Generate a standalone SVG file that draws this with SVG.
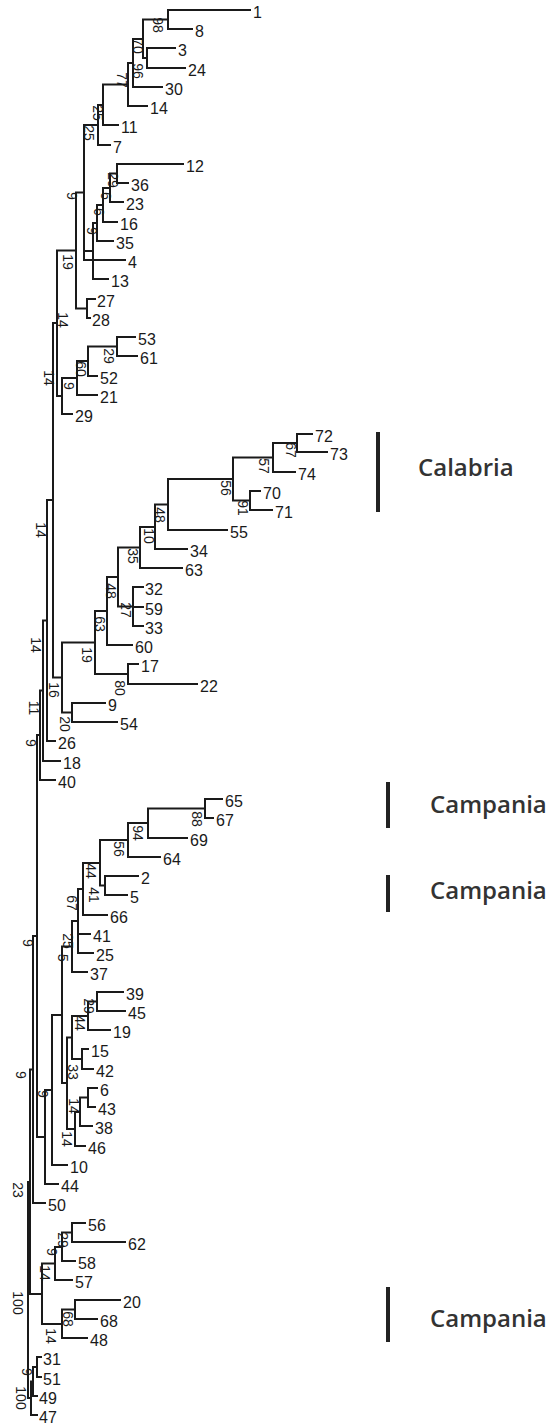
<svg xmlns="http://www.w3.org/2000/svg" width="550" height="1425" viewBox="0 0 550 1425">
<style>
.br{stroke:#1a1a1a;stroke-width:2;fill:none;stroke-linecap:square}
.lf text{font-family:"Liberation Sans",Arial,sans-serif;font-size:16px;fill:#1a1a1a}
.lf path{stroke:#1a1a1a;stroke-width:2;fill:none;stroke-linecap:square}
.bs{font-family:"Liberation Sans",Arial,sans-serif;font-size:14px;fill:#1a1a1a;text-anchor:middle;dominant-baseline:middle}
.bar{fill:#222}
.reg{font-family:"Open Sans","DejaVu Sans",sans-serif;font-size:24px;font-weight:600;fill:#333}
</style>
<rect width="550" height="1425" fill="#fff"/>
<g id="connectors" class="br">
<path d="M168 10V29 M147 48V68 M143 19.5V58 M143 19.5H168 M143 58H147 M133 39V87 M133 39H143 M128 63V106 M128 63H133 M103 84.5V125 M103 84.5H128 M98 105V145 M98 105H103"/>
<path d="M117 164V183 M110 173.5V202 M110 173.5H117 M103 188V222 M103 188H110 M97 205V241 M97 205H103 M93 223V279 M93 223H97 M84 125V260 M84 125H98 M84 251H93 M87 299V318 M76 192.5V308.5 M76 192.5H84 M76 308.5H87"/>
<path d="M117 337V356 M88 346.5V376 M88 346.5H117 M77 361V395 M77 361H88 M62 378V414 M62 378H77 M57 250.5V396 M57 250.5H76 M57 396H62"/>
<path d="M297 434V452 M273 443V472 M273 443H297 M250 491V510 M233 457.5V500.5 M233 457.5H273 M233 500.5H250 M168 479V530 M168 479H233 M155 504.5V549 M155 504.5H168 M140 527V568 M140 527H155 M133 587V626 M118 547.5V606.5 M118 547.5H140 M118 606.5H133 M107 577V645 M107 577H118 M128 664V684 M95 611V674 M95 611H107 M95 674H128 M72 703V722 M62 642.5V712.5 M62 642.5H95 M62 712.5H72"/>
<path d="M53 323V677.5 M53 323H57 M53 677.5H62 M47 500V741 M47 500H53 M43 620.5V761 M43 620.5H47 M40 690.5V780 M40 690.5H43"/>
<path d="M205 799V818 M148 808.5V838 M148 808.5H205 M128 823V857 M128 823H148 M105 876V895 M100 840V885.5 M100 840H128 M100 885.5H105 M83 863V915 M83 863H100 M78 889V953 M78 889H83 M72 921V972 M72 921H78"/>
<path d="M97 992V1011 M88 1001.5V1030 M88 1001.5H97 M82 1049V1069 M72 1016V1059 M72 1016H88 M72 1059H82 M88 1088V1107 M80 1097.5V1126 M80 1097.5H88 M75 1112V1146 M75 1112H80 M67 1037.5V1129 M67 1037.5H72 M67 1129H75 M62 946.5V1083 M62 946.5H72 M62 1083H67 M52 1015V1165 M52 1015H62 M45 1090V1184 M45 1090H52 M37 735V1137 M37 735H40 M37 1137H45 M33 936V1203 M33 936H37"/>
<path d="M72 1223V1242 M62 1232.5V1261 M62 1232.5H72 M55 1247V1280 M55 1247H62 M75 1300V1319 M62 1309.5V1338 M62 1309.5H75 M42 1263.5V1324 M42 1263.5H55 M42 1324H62 M30 1069.5V1294 M30 1069.5H33 M30 1294H42 M37 1357V1377 M33 1367V1396 M33 1367H37 M31 1381.5V1415 M31 1381.5H33 M28 1182V1398 M28 1182H30 M28 1398H31"/>
</g>
<g id="leaves" class="lf">
<g id="leaf-1"><path d="M168 10H250"/><text x="253" y="18">1</text></g>
<g id="leaf-8"><path d="M168 29H192"/><text x="195" y="37">8</text></g>
<g id="leaf-3"><path d="M147 48H175"/><text x="178" y="56">3</text></g>
<g id="leaf-24"><path d="M147 68H185"/><text x="188" y="76">24</text></g>
<g id="leaf-30"><path d="M133 87H162"/><text x="165" y="95">30</text></g>
<g id="leaf-14"><path d="M128 106H147"/><text x="150" y="114">14</text></g>
<g id="leaf-11"><path d="M103 125H118"/><text x="121" y="133">11</text></g>
<g id="leaf-7"><path d="M98 145H110"/><text x="113" y="153">7</text></g>
<g id="leaf-12"><path d="M117 164H183"/><text x="186" y="172">12</text></g>
<g id="leaf-36"><path d="M117 183H128"/><text x="131" y="191">36</text></g>
<g id="leaf-23"><path d="M110 202H123"/><text x="126" y="210">23</text></g>
<g id="leaf-16"><path d="M103 222H117"/><text x="120" y="230">16</text></g>
<g id="leaf-35"><path d="M97 241H113"/><text x="116" y="249">35</text></g>
<g id="leaf-4"><path d="M84 260H125"/><text x="128" y="268">4</text></g>
<g id="leaf-13"><path d="M93 279H108"/><text x="111" y="287">13</text></g>
<g id="leaf-27"><path d="M87 299H95"/><text x="97" y="307">27</text></g>
<g id="leaf-28"><path d="M87 318H90"/><text x="92" y="326">28</text></g>
<g id="leaf-53"><path d="M117 337H135"/><text x="138" y="345">53</text></g>
<g id="leaf-61"><path d="M117 356H137"/><text x="140" y="364">61</text></g>
<g id="leaf-52"><path d="M88 376H97"/><text x="100" y="384">52</text></g>
<g id="leaf-21"><path d="M77 395H97"/><text x="100" y="403">21</text></g>
<g id="leaf-29"><path d="M62 414H72"/><text x="75" y="422">29</text></g>
<g id="leaf-72"><path d="M297 434H312"/><text x="315" y="442">72</text></g>
<g id="leaf-73"><path d="M297 452H327"/><text x="330" y="460">73</text></g>
<g id="leaf-74"><path d="M273 472H295"/><text x="298" y="480">74</text></g>
<g id="leaf-70"><path d="M250 491H260"/><text x="263" y="499">70</text></g>
<g id="leaf-71"><path d="M250 510H272"/><text x="275" y="518">71</text></g>
<g id="leaf-55"><path d="M168 530H227"/><text x="230" y="538">55</text></g>
<g id="leaf-34"><path d="M155 549H187"/><text x="190" y="557">34</text></g>
<g id="leaf-63"><path d="M140 568H182"/><text x="185" y="576">63</text></g>
<g id="leaf-32"><path d="M133 587H143"/><text x="145" y="595">32</text></g>
<g id="leaf-59"><path d="M133 607H143"/><text x="145" y="615">59</text></g>
<g id="leaf-33"><path d="M133 626H143"/><text x="145" y="634">33</text></g>
<g id="leaf-60"><path d="M107 645H132"/><text x="135" y="653">60</text></g>
<g id="leaf-17"><path d="M128 664H138"/><text x="141" y="672">17</text></g>
<g id="leaf-22"><path d="M128 684H197"/><text x="200" y="692">22</text></g>
<g id="leaf-9"><path d="M72 703H105"/><text x="108" y="711">9</text></g>
<g id="leaf-54"><path d="M72 722H117"/><text x="120" y="730">54</text></g>
<g id="leaf-26"><path d="M47 741H55"/><text x="58" y="749">26</text></g>
<g id="leaf-18"><path d="M43 761H60"/><text x="63" y="769">18</text></g>
<g id="leaf-40"><path d="M40 780H55"/><text x="58" y="788">40</text></g>
<g id="leaf-65"><path d="M205 799H222"/><text x="225" y="807">65</text></g>
<g id="leaf-67"><path d="M205 818H213"/><text x="216" y="826">67</text></g>
<g id="leaf-69"><path d="M148 838H187"/><text x="190" y="846">69</text></g>
<g id="leaf-64"><path d="M128 857H160"/><text x="163" y="865">64</text></g>
<g id="leaf-2"><path d="M105 876H138"/><text x="141" y="884">2</text></g>
<g id="leaf-5"><path d="M105 895H127"/><text x="130" y="903">5</text></g>
<g id="leaf-66"><path d="M83 915H107"/><text x="110" y="923">66</text></g>
<g id="leaf-41"><path d="M78 934H90"/><text x="93" y="942">41</text></g>
<g id="leaf-25"><path d="M78 953H93"/><text x="96" y="961">25</text></g>
<g id="leaf-37"><path d="M72 972H87"/><text x="90" y="980">37</text></g>
<g id="leaf-39"><path d="M97 992H123"/><text x="126" y="1000">39</text></g>
<g id="leaf-45"><path d="M97 1011H125"/><text x="128" y="1019">45</text></g>
<g id="leaf-19"><path d="M88 1030H110"/><text x="113" y="1038">19</text></g>
<g id="leaf-15"><path d="M82 1049H88"/><text x="91" y="1057">15</text></g>
<g id="leaf-42"><path d="M82 1069H93"/><text x="96" y="1077">42</text></g>
<g id="leaf-6"><path d="M88 1088H97"/><text x="100" y="1096">6</text></g>
<g id="leaf-43"><path d="M88 1107H95"/><text x="98" y="1115">43</text></g>
<g id="leaf-38"><path d="M80 1126H92"/><text x="95" y="1134">38</text></g>
<g id="leaf-46"><path d="M75 1146H85"/><text x="88" y="1154">46</text></g>
<g id="leaf-10"><path d="M52 1165H67"/><text x="70" y="1173">10</text></g>
<g id="leaf-44"><path d="M45 1184H58"/><text x="61" y="1192">44</text></g>
<g id="leaf-50"><path d="M33 1203H45"/><text x="48" y="1211">50</text></g>
<g id="leaf-56"><path d="M72 1223H85"/><text x="88" y="1231">56</text></g>
<g id="leaf-62"><path d="M72 1242H125"/><text x="128" y="1250">62</text></g>
<g id="leaf-58"><path d="M62 1261H75"/><text x="78" y="1269">58</text></g>
<g id="leaf-57"><path d="M55 1280H72"/><text x="75" y="1288">57</text></g>
<g id="leaf-20"><path d="M75 1300H120"/><text x="123" y="1308">20</text></g>
<g id="leaf-68"><path d="M75 1319H97"/><text x="100" y="1327">68</text></g>
<g id="leaf-48"><path d="M62 1338H87"/><text x="90" y="1346">48</text></g>
<g id="leaf-31"><path d="M37 1357H41"/><text x="43" y="1365">31</text></g>
<g id="leaf-51"><path d="M37 1377H41"/><text x="43" y="1385">51</text></g>
<g id="leaf-49"><path d="M33 1396H37"/><text x="39" y="1404">49</text></g>
<g id="leaf-47"><path d="M31 1415H37"/><text x="39" y="1423">47</text></g>
</g>
<g id="support-values">
<text class="bs" x="157" y="25" transform="rotate(90 157 25)">98</text>
<text class="bs" x="137" y="46" transform="rotate(90 137 46)">70</text>
<text class="bs" x="137" y="71" transform="rotate(90 137 71)">96</text>
<text class="bs" x="121" y="80" transform="rotate(90 121 80)">77</text>
<text class="bs" x="97" y="113" transform="rotate(90 97 113)">25</text>
<text class="bs" x="88" y="133" transform="rotate(90 88 133)">25</text>
<text class="bs" x="112" y="180" transform="rotate(90 112 180)">29</text>
<text class="bs" x="105" y="196" transform="rotate(90 105 196)">6</text>
<text class="bs" x="71" y="196" transform="rotate(90 71 196)">9</text>
<text class="bs" x="98" y="212" transform="rotate(90 98 212)">6</text>
<text class="bs" x="91" y="231" transform="rotate(90 91 231)">9</text>
<text class="bs" x="67" y="262" transform="rotate(90 67 262)">19</text>
<text class="bs" x="62" y="320" transform="rotate(90 62 320)">14</text>
<text class="bs" x="108" y="356" transform="rotate(90 108 356)">29</text>
<text class="bs" x="80" y="369" transform="rotate(90 80 369)">60</text>
<text class="bs" x="48" y="378" transform="rotate(90 48 378)">14</text>
<text class="bs" x="68" y="386" transform="rotate(90 68 386)">9</text>
<text class="bs" x="290" y="450" transform="rotate(90 290 450)">67</text>
<text class="bs" x="263" y="466" transform="rotate(90 263 466)">57</text>
<text class="bs" x="225" y="488" transform="rotate(90 225 488)">56</text>
<text class="bs" x="242" y="508" transform="rotate(90 242 508)">91</text>
<text class="bs" x="159" y="515" transform="rotate(90 159 515)">48</text>
<text class="bs" x="148" y="536" transform="rotate(90 148 536)">10</text>
<text class="bs" x="132" y="556" transform="rotate(90 132 556)">35</text>
<text class="bs" x="40" y="530" transform="rotate(90 40 530)">14</text>
<text class="bs" x="110" y="591" transform="rotate(90 110 591)">48</text>
<text class="bs" x="125" y="610" transform="rotate(90 125 610)">27</text>
<text class="bs" x="99" y="624" transform="rotate(90 99 624)">63</text>
<text class="bs" x="35" y="645" transform="rotate(90 35 645)">14</text>
<text class="bs" x="86" y="655" transform="rotate(90 86 655)">19</text>
<text class="bs" x="119" y="688" transform="rotate(90 119 688)">80</text>
<text class="bs" x="53" y="690" transform="rotate(90 53 690)">16</text>
<text class="bs" x="33" y="708" transform="rotate(90 33 708)">11</text>
<text class="bs" x="64" y="724" transform="rotate(90 64 724)">20</text>
<text class="bs" x="30" y="743" transform="rotate(90 30 743)">9</text>
<text class="bs" x="196" y="819" transform="rotate(90 196 819)">88</text>
<text class="bs" x="137" y="833" transform="rotate(90 137 833)">94</text>
<text class="bs" x="118" y="849" transform="rotate(90 118 849)">56</text>
<text class="bs" x="90" y="871" transform="rotate(90 90 871)">44</text>
<text class="bs" x="93" y="895" transform="rotate(90 93 895)">41</text>
<text class="bs" x="71" y="903" transform="rotate(90 71 903)">67</text>
<text class="bs" x="67" y="941" transform="rotate(90 67 941)">25</text>
<text class="bs" x="27" y="943" transform="rotate(90 27 943)">9</text>
<text class="bs" x="62" y="958" transform="rotate(90 62 958)">5</text>
<text class="bs" x="88" y="1006" transform="rotate(90 88 1006)">29</text>
<text class="bs" x="79" y="1023" transform="rotate(90 79 1023)">44</text>
<text class="bs" x="72" y="1072" transform="rotate(90 72 1072)">33</text>
<text class="bs" x="20" y="1075" transform="rotate(90 20 1075)">9</text>
<text class="bs" x="42" y="1094" transform="rotate(90 42 1094)">9</text>
<text class="bs" x="73" y="1106" transform="rotate(90 73 1106)">14</text>
<text class="bs" x="66" y="1139" transform="rotate(90 66 1139)">14</text>
<text class="bs" x="17" y="1190" transform="rotate(90 17 1190)">23</text>
<text class="bs" x="62" y="1240" transform="rotate(90 62 1240)">29</text>
<text class="bs" x="51" y="1252" transform="rotate(90 51 1252)">9</text>
<text class="bs" x="44" y="1273" transform="rotate(90 44 1273)">14</text>
<text class="bs" x="17" y="1303" transform="rotate(90 17 1303)">100</text>
<text class="bs" x="67" y="1319" transform="rotate(90 67 1319)">68</text>
<text class="bs" x="50" y="1336" transform="rotate(90 50 1336)">14</text>
<text class="bs" x="26" y="1372" transform="rotate(90 26 1372)">9</text>
<text class="bs" x="20" y="1398" transform="rotate(90 20 1398)">100</text>
</g>
<g id="region-calabria"><rect class="bar" x="376" y="432" width="4" height="80"/><text class="reg" x="418" y="476">Calabria</text></g>
<g id="region-campania-1"><rect class="bar" x="386" y="782" width="4" height="46"/><text class="reg" x="430" y="813">Campania</text></g>
<g id="region-campania-2"><rect class="bar" x="386" y="875" width="4" height="37"/><text class="reg" x="430" y="899">Campania</text></g>
<g id="region-campania-3"><rect class="bar" x="386" y="1287" width="4" height="55"/><text class="reg" x="430" y="1327">Campania</text></g>
</svg>
